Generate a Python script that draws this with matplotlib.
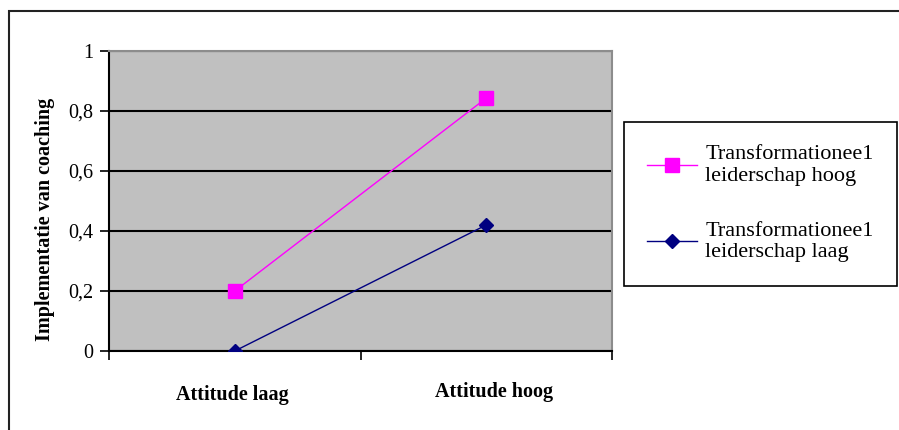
import matplotlib.pyplot as plt
from matplotlib.patches import Rectangle

categories = ["Attitude laag", "Attitude hoog"]
hoog = [0.2, 0.843]
laag = [0.0, 0.42]
series_labels = ["Transformationee1\nleiderschap hoog", "Transformationee1\nleiderschap laag"]
yticks = [0, 0.2, 0.4, 0.6, 0.8, 1]
ytick_labels = ["0", "0,2", "0,4", "0,6", "0,8", "1"]

plt.rcParams['font.family'] = ['Liberation Serif', 'DejaVu Serif']

fig = plt.figure(figsize=(8.99, 4.30), dpi=100)
ax = fig.add_axes([109 / 899, 79 / 430, 503 / 899, 300 / 430])
ax.set_facecolor('#C0C0C0')

x = list(range(len(categories)))
ax.plot(x, hoog, color='#FF00FF', lw=1, marker='s', ms=9.5, label=series_labels[0], zorder=3)
ax.plot(x, laag, color='#000080', lw=1, marker='D', ms=7.5, label=series_labels[1], zorder=3)

ax.set_xlim(-0.5, 1.5)
ax.set_ylim(0, 1)
ax.set_yticks(yticks)
ax.set_yticklabels(ytick_labels, fontsize=14.5)
ax.yaxis.grid(True, color='black', lw=1.5)
ax.set_axisbelow(True)

ax.set_xticks([-0.5, 0.5, 1.5])
ax.set_xticklabels([])
ax.tick_params(axis='both', direction='out', length=6.5, width=1.2, color='black')
ax.tick_params(axis='y', pad=5)
# category labels sit a little unevenly in the original
for xi, cat, dx, dy in zip(x, categories, [-0.01, 0.03], [0.147, 0.137]):
    ax.text(xi + dx, -dy, cat, ha='center', va='center', fontsize=14.5, fontweight='bold',
            transform=ax.get_xaxis_transform())

for s in ['top', 'right']:
    ax.spines[s].set_color('#8C8C8C')
    ax.spines[s].set_linewidth(1.5)
for s in ['left', 'bottom']:
    ax.spines[s].set_color('black')
    ax.spines[s].set_linewidth(1.5)

ax.set_ylabel("Implementatie van coaching", fontsize=14.5, fontweight='bold')
ax.yaxis.set_label_coords(-0.107, 0.44)

leg = fig.legend(loc='upper left', bbox_to_anchor=(624 / 899, 1 - 122 / 430),
                 fontsize=16, frameon=True, fancybox=False, edgecolor='black',
                 framealpha=1, handlelength=2.25, handletextpad=0.35,
                 labelspacing=1.6, borderpad=1.05, borderaxespad=0)
leg.get_frame().set_linewidth(1.2)
for t in leg.get_texts():
    t.set_multialignment('left')

fig.patches.append(Rectangle((9 / 899, -0.1), 1.2, 1.1 - 11 / 430, transform=fig.transFigure,
                             fill=False, edgecolor='#222222', lw=1.5))

fig.savefig('out.png', dpi=100)
